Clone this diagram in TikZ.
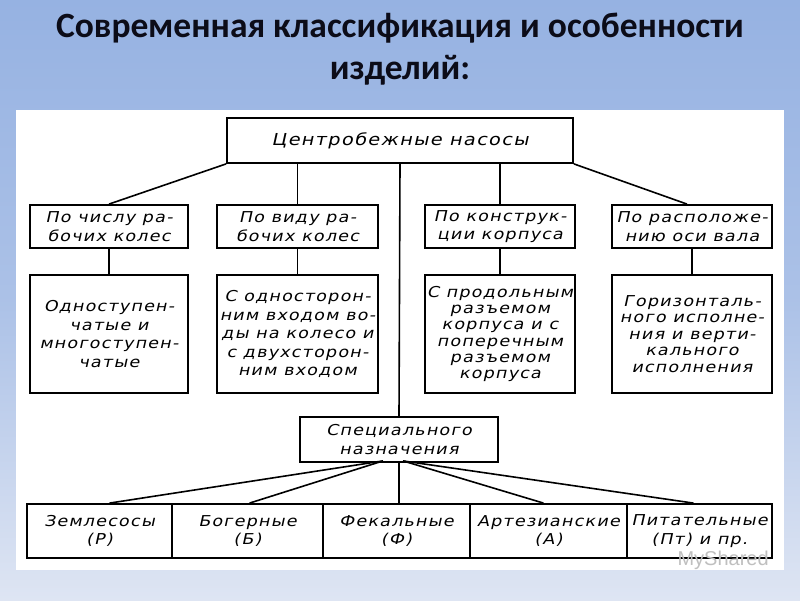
\documentclass[tikz,border=0pt]{standalone}
\usepackage{fontspec}
\newfontfamily\titlefont{Carlito}
\newfontfamily\hand{DejaVu Sans}[LetterSpace=8,FakeStretch=1.17,FakeSlant=0.22]
\definecolor{bgtop}{RGB}{150,178,226}
\definecolor{bgbot}{RGB}{222,229,243}
\definecolor{titlecol}{RGB}{12,12,24}
\begin{document}
\begin{tikzpicture}[x=1pt,y=-1pt,
  box/.style={draw, line width=1.8pt, inner sep=0pt, align=center,
    font=\hand\fontsize{15}{18.5}\selectfont},
  link/.style={line width=1.6pt},
  ttl/.style={font=\titlefont\bfseries\fontsize{35.5}{42}\selectfont, text=titlecol, anchor=base}]
\useasboundingbox (0,0) rectangle (800,600);
\shade[top color=bgtop, bottom color=bgbot, middle color=bgtop!70!bgbot] (0,0) rectangle (800,600);
\fill[white] (16,110) rectangle (784,570);
% title
\node[ttl] (title1) at (400,37) {Современная классификация и особенности};
\node[ttl] (title2) at (400,79) {изделий:};
% top
\node[box, minimum width=346pt, minimum height=45pt,
  font=\hand\fontsize{16.5}{20}\selectfont] (top) at (400,140.5) {Центробежные насосы};
% row 2
\node[box, minimum width=158pt, minimum height=43pt] (b1) at (109,226.5) {По числу ра-\\бочих колес};
\node[box, minimum width=161pt, minimum height=43pt] (b2) at (297.5,226.5) {По виду ра-\\бочих колес};
\node[box, minimum width=150pt, minimum height=43pt] (b3) at (500,226.5) {По конструк-\\ции корпуса};
\node[box, minimum width=160pt, minimum height=43pt] (b4) at (692,226.5) {По расположе-\\нию оси вала};
% row 3
\node[box, minimum width=158pt, minimum height=118pt] (r1) at (109,334) {Одноступен-\\чатые и\\многоступен-\\чатые};
\node[box, minimum width=161pt, minimum height=118pt] (r2) at (297.5,334) {С односторон-\\ним входом во-\\ды на колесо и\\с двухсторон-\\ним входом};
\node[box, minimum width=150pt, minimum height=118pt,
  font=\hand\fontsize{15}{16.3}\selectfont] (r3) at (500,334) {С продольным\\разъемом\\корпуса и с\\поперечным\\разъемом\\корпуса};
\node[box, minimum width=160pt, minimum height=118pt,
  font=\hand\fontsize{15}{16.5}\selectfont] (r4) at (692,334) {Горизонталь-\\ного исполне-\\ния и верти-\\кального\\исполнения};
% special
\node[box, minimum width=198pt, minimum height=45pt] (spec) at (399,439.5) {Специального\\назначения};
% bottom row
\node[box, minimum width=145pt, minimum height=54pt] (c1) at (99.5,531) {Землесосы\\(Р)};
\node[box, minimum width=151pt, minimum height=54pt] (c2) at (247.5,531) {Богерные\\(Б)};
\node[box, minimum width=147pt, minimum height=54pt] (c3) at (396.5,531) {Фекальные\\(Ф)};
\node[box, minimum width=157pt, minimum height=54pt] (c4) at (548.5,531) {Артезианские\\(А)};
\node[box, minimum width=145pt, minimum height=54pt] (c5) at (699.5,531) {Питательные\\(Пт) и пр.};
% connectors
\draw[link] (top.south west) -- (b1.north);
\draw[link] (b2.north |- top.south) -- (b2.north);
\draw[link] (top.south) -- (spec.north);
\draw[link] (b3.north |- top.south) -- (b3.north);
\draw[link] (top.south east) -- ([xshift=-5pt]b4.north);
\foreach \i in {1,2,3,4} \draw[link] (b\i.south) -- (r\i.north);
\coordinate (sl) at ([xshift=-16pt,yshift=2pt]spec.south);
\coordinate (sr) at ([xshift=4pt,yshift=2pt]spec.south);
\draw[link] (sl) -- ([xshift=10pt]c1.north);
\draw[link] (sl) -- ([xshift=2pt]c2.north);
\draw[link] (spec.south) -- (spec.south |- c3.north);
\draw[link] (sr) -- ([xshift=-5pt]c4.north);
\draw[link] (sr) -- ([xshift=-6pt]c5.north);
% watermark
\node[font=\fontspec{Liberation Sans}\fontsize{20}{20}\selectfont, text=gray!50, anchor=base west] (wm) at (674,565) {MyShared};
\end{tikzpicture}
\end{document}
